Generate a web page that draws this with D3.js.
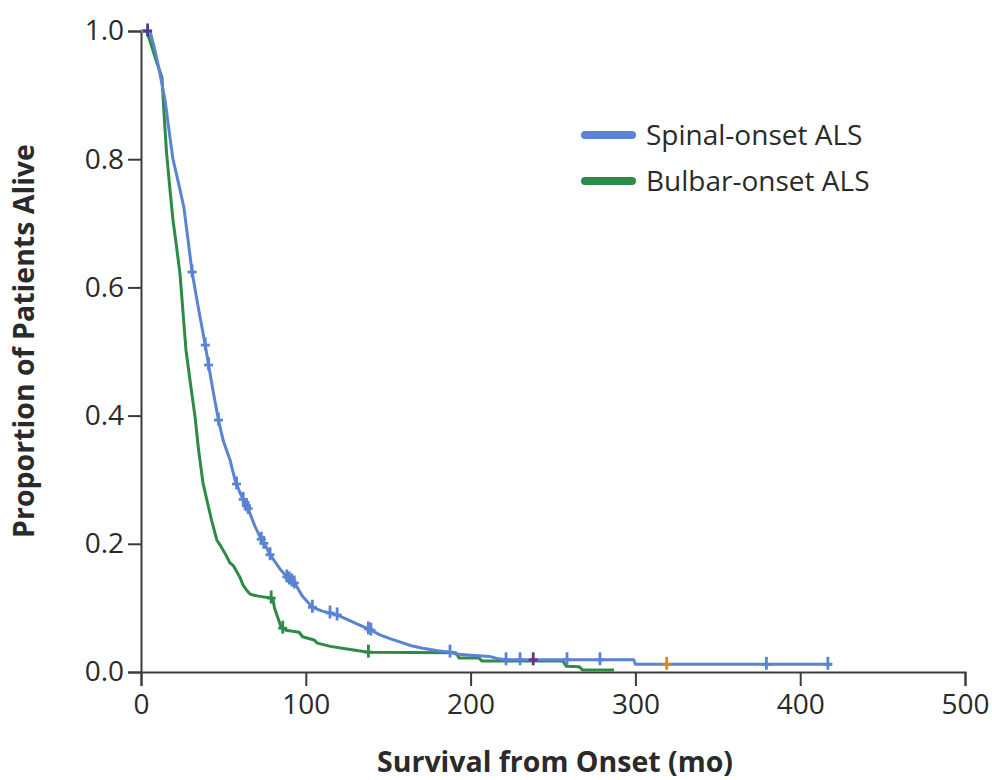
<!DOCTYPE html>
<html>
<head>
<meta charset="utf-8">
<script src="https://cdn.jsdelivr.net/npm/d3@7"></script>
<style>
  html, body { margin: 0; padding: 0; background: #fff; }
  svg { display: block; }
  text { font-family: "Open Sans", "Noto Sans", sans-serif; fill: #2a2a2a; }
</style>
</head>
<body>
<svg id="chart" width="992" height="780"></svg>
<script>
// Kaplan-Meier survival traces: months from onset vs proportion alive
const spinalTime = [0, 5.5, 8, 11, 14.6, 17, 19.4, 23, 26, 28.5, 31, 35, 39, 41, 44, 47, 50, 54, 57, 60, 63, 65, 69, 73.4, 76, 78.3, 84, 88.6, 93.4, 98, 104, 110, 114.7, 119, 125, 132, 139, 145, 151, 157, 164, 171, 180, 187.5, 191, 200, 212, 216, 221.5, 299, 300, 419];
const spinalSurv = [1.0, 1.0, 0.975, 0.94, 0.892, 0.845, 0.80, 0.76, 0.725, 0.675, 0.624, 0.565, 0.51, 0.479, 0.435, 0.393, 0.36, 0.331, 0.30, 0.28, 0.264, 0.255, 0.228, 0.205, 0.195, 0.183, 0.162, 0.148, 0.138, 0.118, 0.101, 0.095, 0.092, 0.089, 0.082, 0.074, 0.066, 0.058, 0.052, 0.047, 0.041, 0.037, 0.033, 0.031, 0.028, 0.026, 0.024, 0.021, 0.019, 0.019, 0.012, 0.012];

const bulbarTime = [0, 3.5, 6, 9, 12.7, 14, 15.5, 17.5, 19.4, 21.5, 23.7, 27.3, 30, 32.8, 35, 37.6, 40, 43, 46, 48, 51, 54, 56, 60, 62, 64, 66, 68, 72, 80, 81, 83, 85, 88, 96, 98, 105, 107, 115, 125, 132, 138, 191, 193, 205, 207, 256, 258, 266, 268, 287];
const bulbarSurv = [1.0, 1.0, 0.98, 0.955, 0.928, 0.87, 0.81, 0.755, 0.705, 0.665, 0.62, 0.502, 0.45, 0.398, 0.345, 0.295, 0.268, 0.235, 0.206, 0.198, 0.185, 0.17, 0.166, 0.148, 0.135, 0.128, 0.122, 0.12, 0.118, 0.115, 0.10, 0.085, 0.07, 0.065, 0.062, 0.055, 0.05, 0.045, 0.04, 0.036, 0.033, 0.031, 0.03, 0.022, 0.022, 0.017, 0.017, 0.009, 0.008, 0.003, 0.003];

// Censoring times (tick marks)
const spinalCensored = [31, 39, 41, 47, 58, 62, 64, 65, 73, 74.5, 78.3, 88.5, 90, 91.5, 93, 104, 114.7, 119, 138, 139.5, 187.5, 221.5, 230, 258.5, 278.5, 379.5, 416.8];
const bulbarCensored = [79, 86, 138];
const otherCensored = [
  { t: 4, color: "#4b3d86" },
  { t: 238, color: "#6a2f8a" },
  { t: 319, color: "#d08a2a" }
];

const xTicks = [0, 100, 200, 300, 400, 500];
const yTicks = [0.0, 0.2, 0.4, 0.6, 0.8, 1.0];

const seriesNames = ["Spinal-onset ALS", "Bulbar-onset ALS"];
const seriesColors = ["#5a84d2", "#2e8b47"];

const svg = d3.select("#chart");

const x = d3.scaleLinear().domain([0, 500]).range([141, 965]);
const y = d3.scaleLinear().domain([0, 1]).range([672, 31]);

const axisColor = "#3c3c3c";

// X axis
const xAxis = svg.append("g")
  .attr("transform", `translate(0,${y(0)})`)
  .call(d3.axisBottom(x).tickValues(xTicks).tickFormat(d3.format("d")).tickSize(14).tickPadding(8));
xAxis.select(".domain").attr("stroke", axisColor).attr("stroke-width", 2);
xAxis.selectAll(".tick line").attr("stroke", axisColor).attr("stroke-width", 2);
xAxis.selectAll(".tick text")
  .attr("font-family", '"Open Sans", sans-serif')
  .attr("font-size", 28).attr("fill", "#2a2a2a");

// Y axis
const yAxis = svg.append("g")
  .attr("transform", `translate(${x(0)},0)`)
  .call(d3.axisLeft(y).tickValues(yTicks).tickFormat(d3.format(".1f")).tickSize(13).tickPadding(4));
yAxis.select(".domain").attr("stroke", axisColor).attr("stroke-width", 2);
yAxis.selectAll(".tick line").attr("stroke", axisColor).attr("stroke-width", 2);
yAxis.selectAll(".tick text")
  .attr("font-family", '"Open Sans", sans-serif')
  .attr("font-size", 28).attr("fill", "#2a2a2a");

// Axis titles
svg.append("text")
  .attr("x", 555).attr("y", 772)
  .attr("text-anchor", "middle")
  .attr("font-size", 28.5).attr("font-weight", 700)
  .text("Survival from Onset (mo)");

svg.append("text")
  .attr("transform", `translate(34,341) rotate(-90)`)
  .attr("text-anchor", "middle")
  .attr("font-size", 28.5).attr("font-weight", 700)
  .text("Proportion of Patients Alive");

// Curves
const line = d3.line().x(d => x(d[0])).y(d => y(d[1])).curve(d3.curveLinear);
const spinalPts = d3.zip(spinalTime, spinalSurv);
const bulbarPts = d3.zip(bulbarTime, bulbarSurv);

function survAt(times, surv, t) {
  const i = d3.bisectRight(times, t);
  if (i <= 0) return surv[0];
  if (i >= times.length) return surv[surv.length - 1];
  const t0 = times[i - 1], t1 = times[i];
  const f = t1 === t0 ? 0 : (t - t0) / (t1 - t0);
  return surv[i - 1] + f * (surv[i] - surv[i - 1]);
}

svg.append("path")
  .datum(bulbarPts)
  .attr("d", line)
  .attr("fill", "none")
  .attr("stroke", seriesColors[1])
  .attr("stroke-width", 3)
  .attr("stroke-linejoin", "round");

svg.append("path")
  .datum(spinalPts)
  .attr("d", line)
  .attr("fill", "none")
  .attr("stroke", seriesColors[0])
  .attr("stroke-width", 3)
  .attr("stroke-linejoin", "round");

// Censor marks: short crosses on the curve
const tickHalf = 6.5, armHalf = 4.5;
function drawTicks(times, tArr, sArr, color) {
  const g = svg.append("g").selectAll("g")
    .data(times)
    .join("g")
    .attr("transform", d => `translate(${x(d)},${y(survAt(tArr, sArr, d))})`);
  g.append("line")
    .attr("x1", 0).attr("x2", 0)
    .attr("y1", -tickHalf - 1).attr("y2", tickHalf - 1)
    .attr("stroke", color).attr("stroke-width", 2.8);
  g.append("line")
    .attr("x1", -armHalf).attr("x2", armHalf)
    .attr("y1", 0).attr("y2", 0)
    .attr("stroke", color).attr("stroke-width", 2.8);
}
drawTicks(bulbarCensored, bulbarTime, bulbarSurv, seriesColors[1]);
drawTicks(spinalCensored, spinalTime, spinalSurv, seriesColors[0]);
otherCensored.forEach(c => {
  drawTicks([c.t], spinalTime, spinalSurv, c.color);
});

// Legend
const legend = svg.append("g");
seriesNames.forEach((name, i) => {
  const ly = 135 + i * 46;
  legend.append("line")
    .attr("x1", 585).attr("x2", 632)
    .attr("y1", ly).attr("y2", ly)
    .attr("stroke", seriesColors[i])
    .attr("stroke-width", 8)
    .attr("stroke-linecap", "round");
  legend.append("text")
    .attr("x", 646).attr("y", ly + 10)
    .attr("font-size", 28)
    .text(name);
});
</script>
</body>
</html>
